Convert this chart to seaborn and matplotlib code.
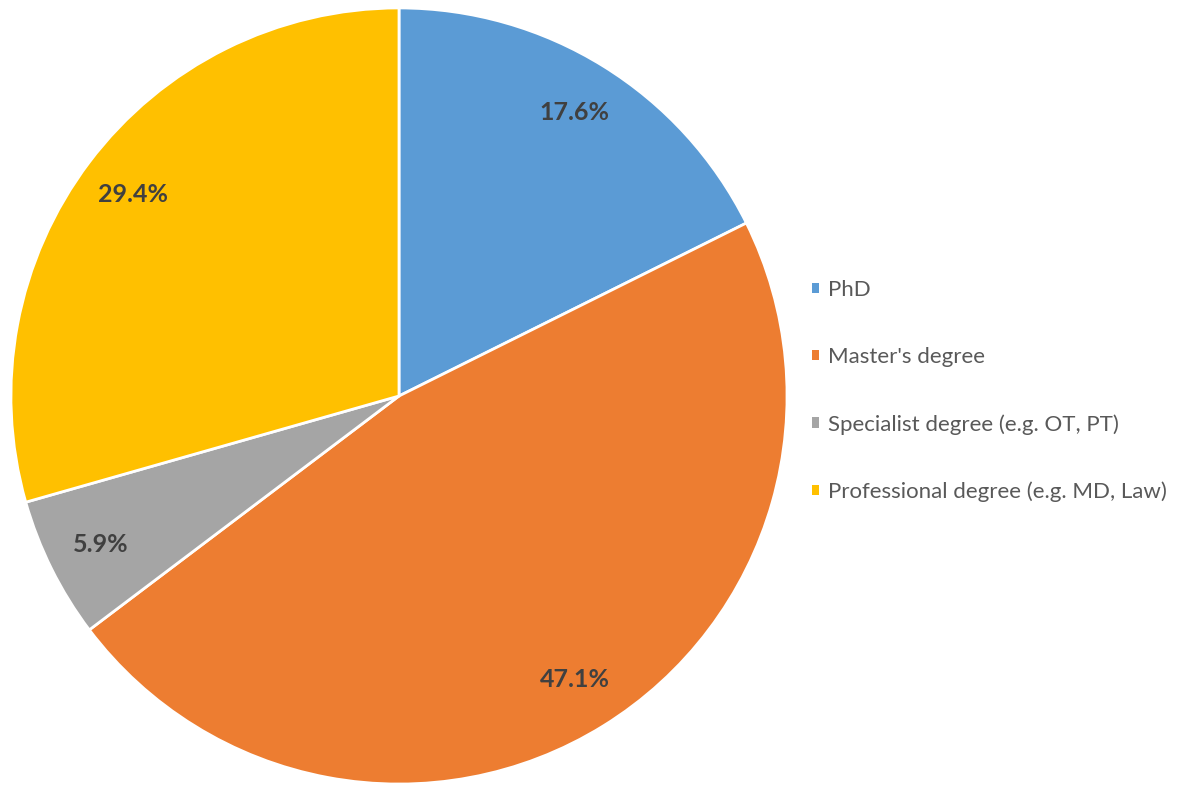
import matplotlib
matplotlib.use("Agg")
import matplotlib.pyplot as plt
from matplotlib.patches import Patch
import seaborn as sns

# Dati
categorie = ["PhD", "Master's degree", "Specialist degree (e.g. OT, PT)",
             "Professional degree (e.g. MD, Law)"]
conteggi = [3, 8, 1, 5]
colori = ["#5B9BD5", "#ED7D31", "#A5A5A5", "#FFC000"]

sns.set_theme(style="white")
plt.rcParams['font.family'] = ['Lato', 'DejaVu Sans']

fig = plt.figure(figsize=(11.81, 7.86), dpi=100)
ax = fig.add_axes([9 / 1181, 0 / 786, 780 / 1181, 780 / 786])

palette = sns.color_palette(colori)
wedges, testi, autotesti = ax.pie(
    conteggi, colors=palette, startangle=90, counterclock=False,
    autopct='%1.1f%%', pctdistance=0.86,
    wedgeprops=dict(edgecolor='white', linewidth=2),
    textprops=dict(fontsize=18, fontweight='bold', color='#404040'))
ax.set_xlim(-1.005, 1.005)
ax.set_ylim(-1.005, 1.005)
ax.set_aspect('equal')

# Legenda a destra
maniglie = [Patch(facecolor=c, edgecolor='none') for c in palette]
leg = fig.legend(maniglie, categorie, loc='center left',
                 bbox_to_anchor=(812 / 1181, 1 - 391 / 786),
                 frameon=False, fontsize=16, labelcolor='#595959',
                 handlelength=0.33, handleheight=0.33, handletextpad=0.4,
                 labelspacing=2.12, borderpad=0, borderaxespad=0)

fig.savefig("out.png", dpi=100)
